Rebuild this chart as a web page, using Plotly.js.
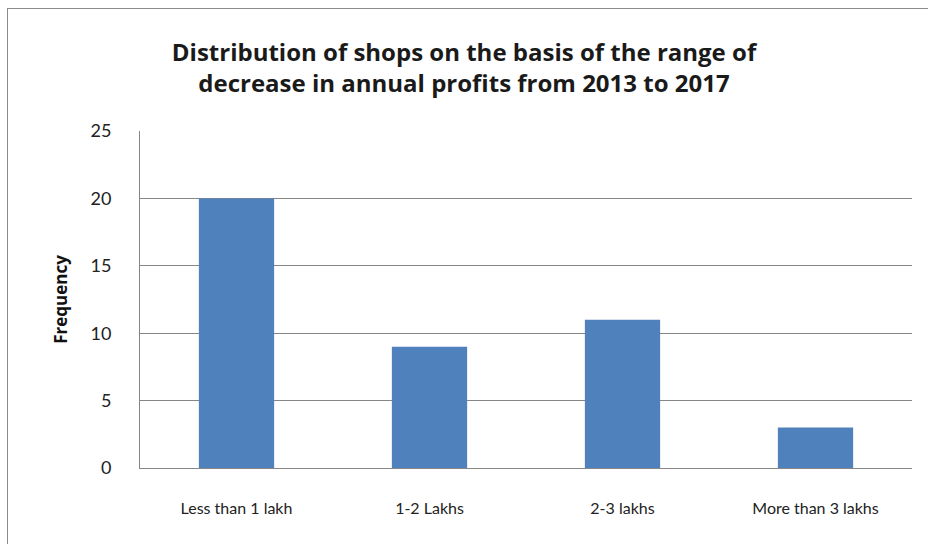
<!DOCTYPE html>
<html>
<head>
<meta charset="utf-8">
<script src="https://cdn.plot.ly/plotly-3.0.1.min.js"></script>
<style>
  html, body { margin: 0; padding: 0; background: #fff; }
  #wrap { position: relative; width: 928px; height: 544px; overflow: hidden; }
  #chart { position: absolute; left: 0; top: 0; width: 928px; height: 544px; }
  #frame { position: absolute; left: 7px; top: 8px; width: 960px; height: 580px;
           border: 1px solid #8c8c8c; pointer-events: none; box-sizing: border-box; }
</style>
</head>
<body>
<div id="wrap">
  <div id="chart"></div>
  <div id="frame"></div>
</div>
<script>
const categories = ["Less than 1 lakh", "1-2 Lakhs", "2-3 lakhs", "More than 3 lakhs"];
const frequency = [20, 9, 11, 3];
const yTicks = [0, 5, 10, 15, 20, 25];

const font = "Lato, 'Open Sans', 'Liberation Sans', sans-serif";
const boldFont = "'Open Sans', Lato, 'Liberation Sans', sans-serif";

const trace = {
  type: "bar",
  x: categories,
  y: frequency,
  width: 0.39,
  marker: { color: "#4F81BD", line: { width: 0 } },
  hoverinfo: "x+y"
};

const layout = {
  width: 928,
  height: 544,
  margin: { l: 140, r: 16, t: 131, b: 76 },
  paper_bgcolor: "#ffffff",
  plot_bgcolor: "#ffffff",
  showlegend: false,
  title: {
    text: "<b>Distribution of shops on the basis of the range of<br>decrease in annual profits from 2013 to 2017</b>",
    font: { family: boldFont, size: 24, color: "#1a1a1a" },
    x: 0.5,
    xanchor: "center",
    y: 0.888,
    yanchor: "middle"
  },
  xaxis: {
    type: "category",
    showgrid: false,
    showline: true,
    linecolor: "#868686",
    linewidth: 1,
    ticks: "",
    tickfont: { family: font, size: 16, color: "#222" },
    ticklabelstandoff: 26,
    zeroline: false
  },
  yaxis: {
    range: [0, 25],
    tickvals: yTicks,
    ticktext: yTicks.map(String),
    showgrid: true,
    gridcolor: "#868686",
    gridwidth: 1,
    showline: true,
    linecolor: "#868686",
    linewidth: 1,
    ticks: "",
    zeroline: false,
    tickfont: { family: font, size: 18, color: "#222" },
    ticklabelstandoff: 24,
    title: {
      text: "<b>Frequency</b>",
      font: { family: boldFont, size: 17, color: "#111" },
      standoff: 18
    }
  },
  bargap: 0.61
};

Plotly.newPlot("chart", [trace], layout, { displayModeBar: false, staticPlot: true });
</script>
</body>
</html>
